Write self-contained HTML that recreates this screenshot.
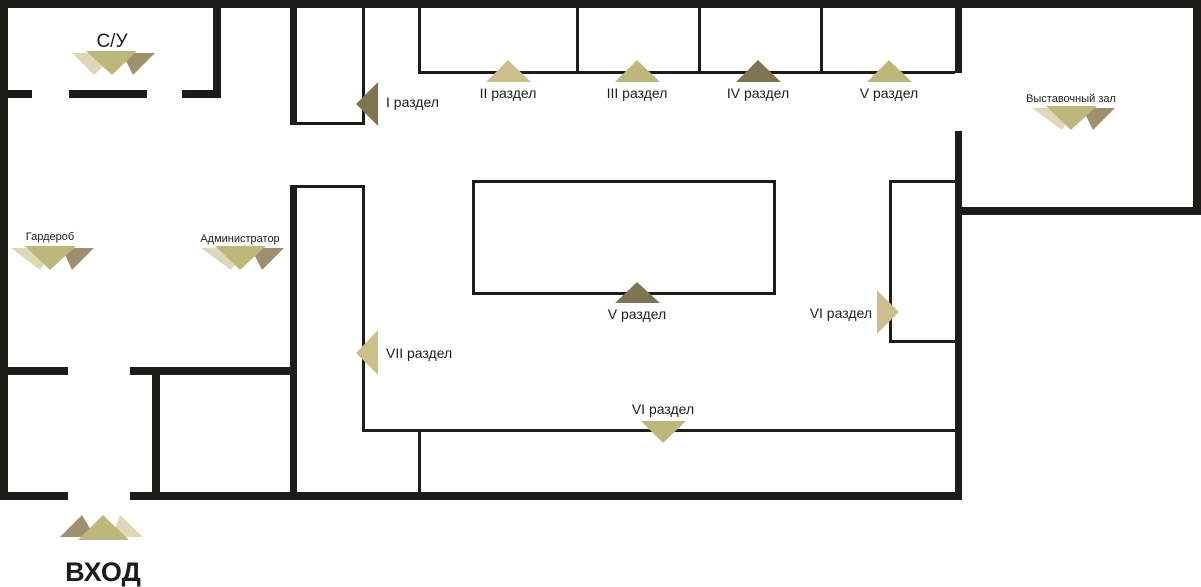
<!DOCTYPE html>
<html><head><meta charset="utf-8"><style>
html,body{margin:0;padding:0;background:#fff}
svg{display:block}
text{font-family:"Liberation Sans","DejaVu Sans",sans-serif;fill:#1d1c18}
</style></head><body>
<svg width="1201" height="587" viewBox="0 0 1201 587" xmlns="http://www.w3.org/2000/svg">
<g fill="#1d1c18">
<!-- thick walls -->
<rect x="0" y="0" width="1201" height="8"/>
<rect x="0" y="0" width="8" height="500"/>
<rect x="1193" y="0" width="8" height="215"/>
<rect x="955" y="207" width="246" height="8"/>
<rect x="955" y="0" width="7" height="73"/>
<rect x="955" y="131" width="7" height="369"/>
<rect x="213" y="0" width="8" height="98"/>
<rect x="0" y="90" width="32" height="8"/>
<rect x="69" y="90" width="78" height="8"/>
<rect x="182" y="90" width="39" height="8"/>
<rect x="290" y="8" width="7" height="117"/>
<rect x="290" y="185" width="7" height="315"/>
<rect x="130" y="492" width="832" height="8"/>
<rect x="0" y="492" width="68" height="8"/>
<rect x="0" y="367" width="68" height="8"/>
<rect x="130" y="367" width="167" height="8"/>
<rect x="152" y="375" width="8" height="125"/>
<!-- thin walls -->
<rect x="362" y="8" width="3" height="117"/>
<rect x="290" y="122" width="75" height="3"/>
<rect x="290" y="185" width="75" height="3"/>
<rect x="362" y="185" width="3" height="247"/>
<rect x="362" y="429" width="593" height="3"/>
<rect x="418" y="432" width="3" height="62"/>
<rect x="418" y="8" width="3" height="66"/>
<rect x="418" y="71" width="537" height="3"/>
<rect x="576" y="8" width="3" height="66"/>
<rect x="698" y="8" width="3" height="66"/>
<rect x="820" y="8" width="3" height="66"/>
</g>
<rect x="473.5" y="181.5" width="301" height="112" fill="none" stroke="#1d1c18" stroke-width="3"/>
<rect x="890.5" y="181.5" width="66" height="160" fill="none" stroke="#1d1c18" stroke-width="3"/>

<!-- section markers -->
<polygon points="356,104 378,82 378,126" fill="#7f7553"/>
<polygon points="508,60 486,82 531,82" fill="#cbbf8c"/>
<polygon points="637,60 615,82 660,82" fill="#bdb77c"/>
<polygon points="758,60 736,82 781,82" fill="#7f7553"/>
<polygon points="889,60 867,82 912,82" fill="#bdb77c"/>
<polygon points="637,282 615,303 660,303" fill="#7f7553"/>
<polygon points="899,312 877,290 877,334" fill="#cbbf8c"/>
<polygon points="356,353 378,330 378,375" fill="#cbbf8c"/>
<polygon points="641,421 686,421 663,443" fill="#bdb77c"/>

<!-- triples down -->
<g>
<polygon points="72,53 117,53 94,75" fill="#dcd8b8"/>
<polygon points="122,53 155,53 133,75" fill="#a08f6f"/>
<polygon points="86,51 137,51 112,75" fill="#bdb77c"/>
</g>
<g>
<polygon points="11,248 56,248 40,270" fill="#dcd8b8"/>
<polygon points="62,248 94,248 72,270" fill="#a08f6f"/>
<polygon points="25,246 76,246 50,270" fill="#bdb77c"/>
</g>
<g>
<polygon points="201,248 246,248 231,270" fill="#dcd8b8"/>
<polygon points="251,248 284,248 262,270" fill="#a08f6f"/>
<polygon points="215,246 266,246 240,270" fill="#bdb77c"/>
</g>
<g>
<polygon points="1032,108 1077,108 1062,130" fill="#dcd8b8"/>
<polygon points="1082,108 1115,108 1093,130" fill="#a08f6f"/>
<polygon points="1046,106 1097,106 1071,130" fill="#bdb77c"/>
</g>
<g>
<polygon points="112,537 143,537 120,515" fill="#dcd8b8"/>
<polygon points="60,537 95,537 82,515" fill="#a08f6f"/>
<polygon points="78,540 129,540 103,515" fill="#bdb77c"/>
</g>

<!-- labels -->
<g font-size="14">
<text x="386" y="107">I раздел</text>
<text x="508" y="98" text-anchor="middle">II раздел</text>
<text x="637" y="98" text-anchor="middle">III раздел</text>
<text x="758" y="98" text-anchor="middle">IV раздел</text>
<text x="889" y="98" text-anchor="middle">V раздел</text>
<text x="637" y="319" text-anchor="middle">V раздел</text>
<text x="872" y="318" text-anchor="end">VI раздел</text>
<text x="386" y="358">VII раздел</text>
<text x="663" y="414" text-anchor="middle">VI раздел</text>
</g>
<text x="112" y="47" font-size="19" text-anchor="middle">С/У</text>
<g font-size="11">
<text x="50" y="240" text-anchor="middle">Гардероб</text>
<text x="240" y="242" text-anchor="middle">Администратор</text>
<text x="1071" y="102" text-anchor="middle">Выставочный зал</text>
</g>
<text x="103" y="581" font-size="27" font-weight="bold" text-anchor="middle">ВХОД</text>
</svg>
</body></html>
